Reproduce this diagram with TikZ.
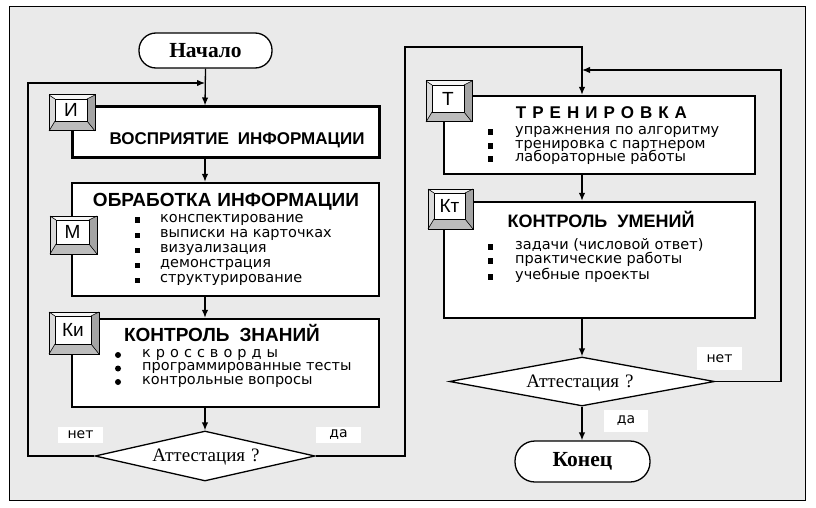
\documentclass[tikz,border=0pt]{standalone}
\usepackage{fontspec}
\setmainfont{Liberation Serif}
\newfontfamily\arialf{Liberation Sans}
\newfontfamily\gothic{DejaVu Sans}
\usetikzlibrary{arrows.meta,shapes.geometric}
\definecolor{bgc}{HTML}{EAEAEA}
\definecolor{bvtop}{HTML}{F6F6F6}
\definecolor{bvleft}{HTML}{DADADA}
\definecolor{bvright}{HTML}{A4A4A4}
\definecolor{bvbot}{HTML}{BCBCBC}
\newcommand\keybtn[6]{%
  \fill[bvtop] (#2,#3) -- (#4,#3) -- (#4-8,#3+4) -- (#2+6,#3+4) -- cycle;
  \fill[bvleft] (#2,#3) -- (#2+6,#3+4) -- (#2+6,#5-10) -- (#2,#5) -- cycle;
  \fill[bvright] (#4,#3) -- (#4,#5) -- (#4-8,#5-10) -- (#4-8,#3+4) -- cycle;
  \fill[bvbot] (#2,#5) -- (#4,#5) -- (#4-8,#5-10) -- (#2+6,#5-10) -- cycle;
  \draw[line width=0.6pt] (#2,#3) -- (#2+6,#3+4) (#4,#3) -- (#4-8,#3+4)
        (#2,#5) -- (#2+6,#5-10) (#4,#5) -- (#4-8,#5-10);
  \draw[line width=1pt] (#2,#3) rectangle (#4,#5);
  \node[draw, fill=white, line width=0.8pt, minimum width=#4-#2-14, minimum height=#5-#3-14,
        inner sep=0pt, font=\arialf\fontsize{19}{19}\selectfont] (#1) at ({(#2+#4-2)/2},{(#3+#5-6)/2}) {#6};
}
\tikzset{
  conn/.style={line width=1.3pt, -{Latex[length=8pt,width=6.5pt]}},
  mainbox/.style={draw, fill=white, line width=2.4pt, inner sep=0pt},
  term/.style={draw, fill=white, line width=1.3pt, rounded corners=17pt, inner sep=0pt,
     font=\bfseries\fontsize{21.5}{21.5}\selectfont},
  dia/.style={diamond, draw, fill=white, line width=1.3pt, inner sep=0pt},
  title/.style={anchor=base, font=\arialf\bfseries\fontsize{19}{19}\selectfont, inner sep=0pt},
  item/.style={anchor=mid west, font=\gothic\fontsize{14.5}{14.5}\selectfont, inner sep=0pt},
  sqb/.style={fill=black, inner sep=0pt, minimum width=5pt, minimum height=5.5pt},
  rdb/.style={circle, fill=black, inner sep=0pt, minimum size=6pt},
  lbl/.style={fill=white, inner sep=0pt, minimum width=45pt, font=\gothic\fontsize{14}{14}\selectfont},
  qtext/.style={anchor=base, inner sep=0pt, font=\fontsize{19}{19}\selectfont},
}
\begin{document}
\begin{tikzpicture}[x=1pt,y=-1pt]
\useasboundingbox (0,0) rectangle (816,508);
\filldraw[fill=bgc, draw=black, line width=1pt] (9,7) rectangle (805,500);

% terminals
\node[term, minimum width=133pt, minimum height=35pt] (start) at (205.5,50.5) {Начало};
\node[term, minimum width=135pt, minimum height=41pt, rounded corners=20pt] (end) at (582.5,461.5) {Конец};

% main boxes
\node[mainbox, line width=3pt, minimum width=307pt, minimum height=50pt] (info) at (225.5,132) {};
\node[mainbox, minimum width=307pt, minimum height=113pt] (proc) at (225.5,239.5) {};
\node[mainbox, minimum width=307pt, minimum height=88pt] (ctrl) at (225.5,363) {};
\node[mainbox, minimum width=311pt, minimum height=78pt] (train) at (599.5,135) {};
\node[mainbox, minimum width=311pt, minimum height=116pt] (ctrlb) at (599.5,260) {};

% decisions
\node[dia, minimum width=220pt, minimum height=50pt] (dia1) at (205,456) {};
\node[dia, minimum width=265pt, minimum height=49pt] (dia2) at (582,381.5) {};
\node[qtext] (q1) at (206,461) {Аттестация\hspace{6pt}?};
\node[qtext] (q2) at (580,387) {Аттестация\hspace{6pt}?};

% connector coordinates
\coordinate (axL) at (205,0);
\coordinate (axR) at (582,0);
\coordinate (cL) at (28,83);
\coordinate (cR) at (405,47);
\coordinate (cT) at (582,47);
\coordinate (cR2) at (781,70);

\draw[conn] (start.south) -- (axL |- info.north);
\draw[conn] (dia1.west) -| (cL) -- (axL |- cL);
\draw[conn] (axL |- info.south) -- (axL |- proc.north);
\draw[conn] (axL |- proc.south) -- (axL |- ctrl.north);
\draw[conn] (axL |- ctrl.south) -- (dia1.north);
\draw[conn] (dia1.east) -| (cR) -- (cT) -- (axR |- train.north);
\draw[conn] (axR |- train.south) -- (axR |- ctrlb.north);
\draw[conn] (axR |- ctrlb.south) -- (dia2.north);
\draw[conn] (dia2.east) -| (cR2) -- (axR |- cR2);
\draw[conn] (dia2.south) -- (axR |- end.north);

% titles
\node[title, font=\arialf\bfseries\fontsize{17}{17}\selectfont] (t1) at (237,144) {ВОСПРИЯТИЕ\hspace{9pt}ИНФОРМАЦИИ};
\node[title] (t2) at (226,206.5) {ОБРАБОТКА\hspace{6pt}ИНФОРМАЦИИ};
\node[title] (t3) at (222,341) {КОНТРОЛЬ\hspace{10pt}ЗНАНИЙ};
\node[title, font=\arialf\bfseries\fontsize{17}{17}\selectfont] (t4) at (601.5,118) {Т\kern6ptР\kern6ptЕ\kern6ptН\kern6ptИ\kern6ptР\kern6ptО\kern6ptВ\kern6ptК\kern6ptА};
\node[title, font=\arialf\bfseries\fontsize{18}{18}\selectfont] (t5) at (601,227) {КОНТРОЛЬ\hspace{10pt}УМЕНИЙ};

% items proc
\foreach \yy [count=\i] in {220,235.5,250.5,265.5,280.5} { \node[sqb] (pb\i) at (137,\yy) {}; }
\node[item] (p1) at (160,220) {конспектирование};
\node[item] (p2) at (160,235.5) {выписки на карточках};
\node[item] (p3) at (160,250.5) {визуализация};
\node[item] (p4) at (160,265.5) {демонстрация};
\node[item] (p5) at (160,280.5) {структурирование};

% items ctrl
\foreach \yy [count=\i] in {355,368.5,382} { \node[rdb] (kb\i) at (118,\yy) {}; }
\node[item] (k1) at (142,355) {к\kern5ptр\kern5ptо\kern5ptс\kern5ptс\kern5ptв\kern5ptо\kern5ptр\kern5ptд\kern5ptы};
\node[item] (k2) at (142,368.5) {программированные тесты};
\node[item] (k3) at (142,382) {контрольные вопросы};

% items train
\foreach \yy [count=\i] in {132,146,159} { \node[sqb] (tb\i) at (490,\yy) {}; }
\node[item] (r1) at (515,132) {упражнения по алгоритму};
\node[item] (r2) at (515,146) {тренировка с партнером};
\node[item] (r3) at (515,159) {лабораторные работы};

% items ctrlb
\foreach \yy [count=\i] in {247,261,277} { \node[sqb] (cb\i) at (490,\yy) {}; }
\node[item] (c1) at (515,247) {задачи (числовой ответ)};
\node[item] (c2) at (515,261) {практические работы};
\node[item] (c3) at (515,277) {учебные проекты};

% buttons
\keybtn{bI}{49}{95}{95}{131}{И}
\keybtn{bM}{50}{216}{97}{254}{М}
\keybtn{bKi}{49}{312}{99}{354}{Ки}
\keybtn{bT}{426}{81}{472}{122}{Т}
\keybtn{bKt}{428}{189}{473}{229}{Кт}

% labels
\node[lbl, minimum height=16pt] (no1) at (80.5,435) {нет};
\node[lbl, minimum height=16pt] (yes1) at (338.5,435) {да};
\node[lbl, minimum height=23pt] (no2) at (719.5,358.5) {нет};
\node[lbl, minimum height=22pt, minimum width=44pt] (yes2) at (626,421) {да};
\end{tikzpicture}
\end{document}
